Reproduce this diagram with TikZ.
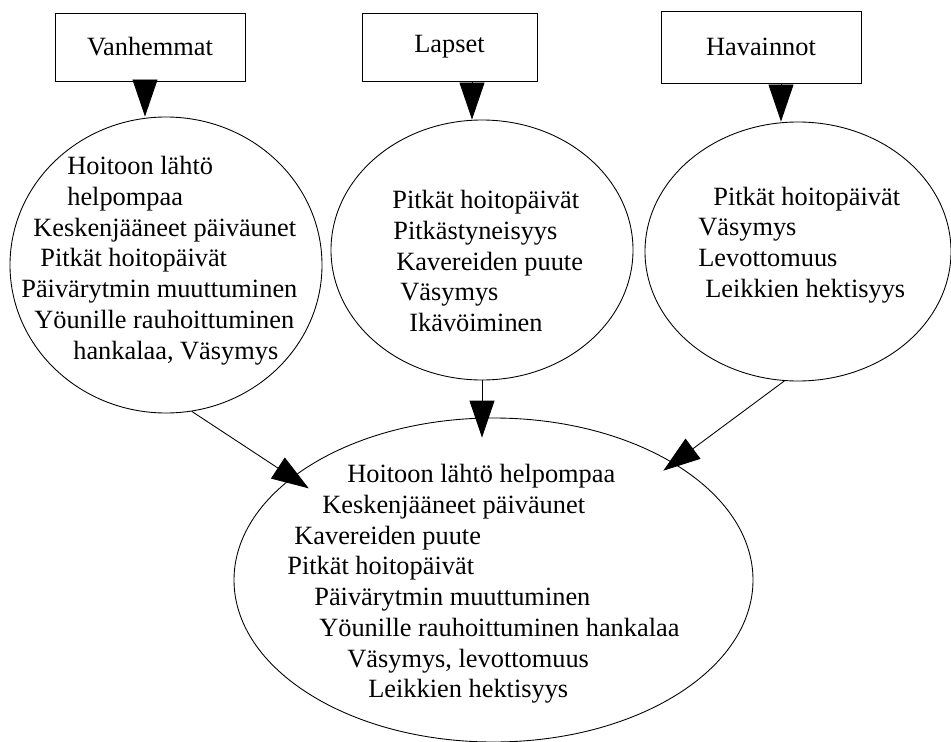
\documentclass[tikz,border=0pt]{standalone}
\usepackage{fontspec}
\setmainfont{Liberation Serif}
\usetikzlibrary{shapes.geometric,arrows.meta}
\begin{document}
\begin{tikzpicture}[
  box/.style={draw, line width=0.5pt, minimum height=1.36cm, font=\fontsize{15}{17.5}\selectfont},
  oval/.style={draw, ellipse, line width=0.5pt, inner sep=0pt},
  items/.style={align=left, inner sep=0pt, anchor=west, font=\fontsize{15}{17.5}\selectfont},
  flow/.style={-{Triangle[length=0.74cm, width=0.5cm]}, line width=0.5pt}
]
\useasboundingbox (0,0) rectangle (19.02,-14.84);
\node[box, minimum width=3.8cm] (vanh) at (3.0,-0.94) {Vanhemmat};
\node[box, minimum width=3.5cm] (lapset) at (8.99,-0.94) {Lapset};
\node[box, minimum width=4.0cm, minimum height=1.44cm] (hav) at (15.22,-0.94) {Havainnot};
\node[oval, minimum width=6.24cm, minimum height=5.92cm] (vanhOval) at (3.32,-5.30) {};
\node[oval, minimum width=6.04cm, minimum height=5.2cm] (lapsetOval) at (9.64,-5.0) {};
\node[oval, minimum width=6.12cm, minimum height=5.18cm] (havOval) at (15.96,-5.03) {};
\node[oval, minimum width=10.38cm, minimum height=6.48cm] (yhteiset) at (9.87,-11.6) {};
\node[items] (vanhList) at (0.42,-5.21) {\hspace*{0.92cm}Hoitoon lähtö\\
  \hspace*{0.92cm}helpompaa\\
  \hspace*{0.24cm}Keskenjääneet päiväunet\\
  \hspace*{0.38cm}Pitkät hoitopäivät\\
  Päivärytmin muuttuminen\\
  \hspace*{0.26cm}Yöunille rauhoittuminen\\
  \hspace*{1.04cm}hankalaa, Väsymys};
\node[items] (lapsetList) at (7.84,-5.22) {Pitkät hoitopäivät\\
  \hspace*{0.02cm}Pitkästyneisyys\\
  \hspace*{0.08cm}Kavereiden puute\\
  \hspace*{0.16cm}Väsymys\\
  \hspace*{0.34cm}Ikävöiminen};
\node[items] (havList) at (13.96,-4.90) {\hspace*{0.30cm}Pitkät hoitopäivät\\
  Väsymys\\
  Levottomuus\\
  \hspace*{0.14cm}Leikkien hektisyys};
\node[items] (yhteisetList) at (5.74,-11.68) {\hspace*{1.2cm}Hoitoon lähtö helpompaa\\
  \hspace*{0.7cm}Keskenjääneet päiväunet\\
  \hspace*{0.14cm}Kavereiden puute\\
  Pitkät hoitopäivät\\
  \hspace*{0.54cm}Päivärytmin muuttuminen\\
  \hspace*{0.64cm}Yöunille rauhoittuminen hankalaa\\
  \hspace*{1.2cm}Väsymys, levottomuus\\
  \hspace*{1.62cm}Leikkien hektisyys};
\draw[flow] ([xshift=-0.1cm]vanh.south) -- ([xshift=-0.1cm]vanh.south |- vanhOval.north);
\draw[flow] ([xshift=0.45cm]lapset.south) -- ([xshift=0.45cm]lapset.south |- lapsetOval.north);
\draw[flow] ([xshift=0.4cm]hav.south) -- ([xshift=0.4cm]hav.south |- havOval.north);
\draw[flow, shorten >=-0.4cm] (vanhOval.-80) -- (yhteiset.153);
\draw[flow, shorten >=-0.4cm] (lapsetOval.south) -- (lapsetOval.south |- yhteiset.north);
\draw[flow, shorten >=-0.26cm] (havOval.-96) -- (yhteiset.33);
\end{tikzpicture}
\end{document}
